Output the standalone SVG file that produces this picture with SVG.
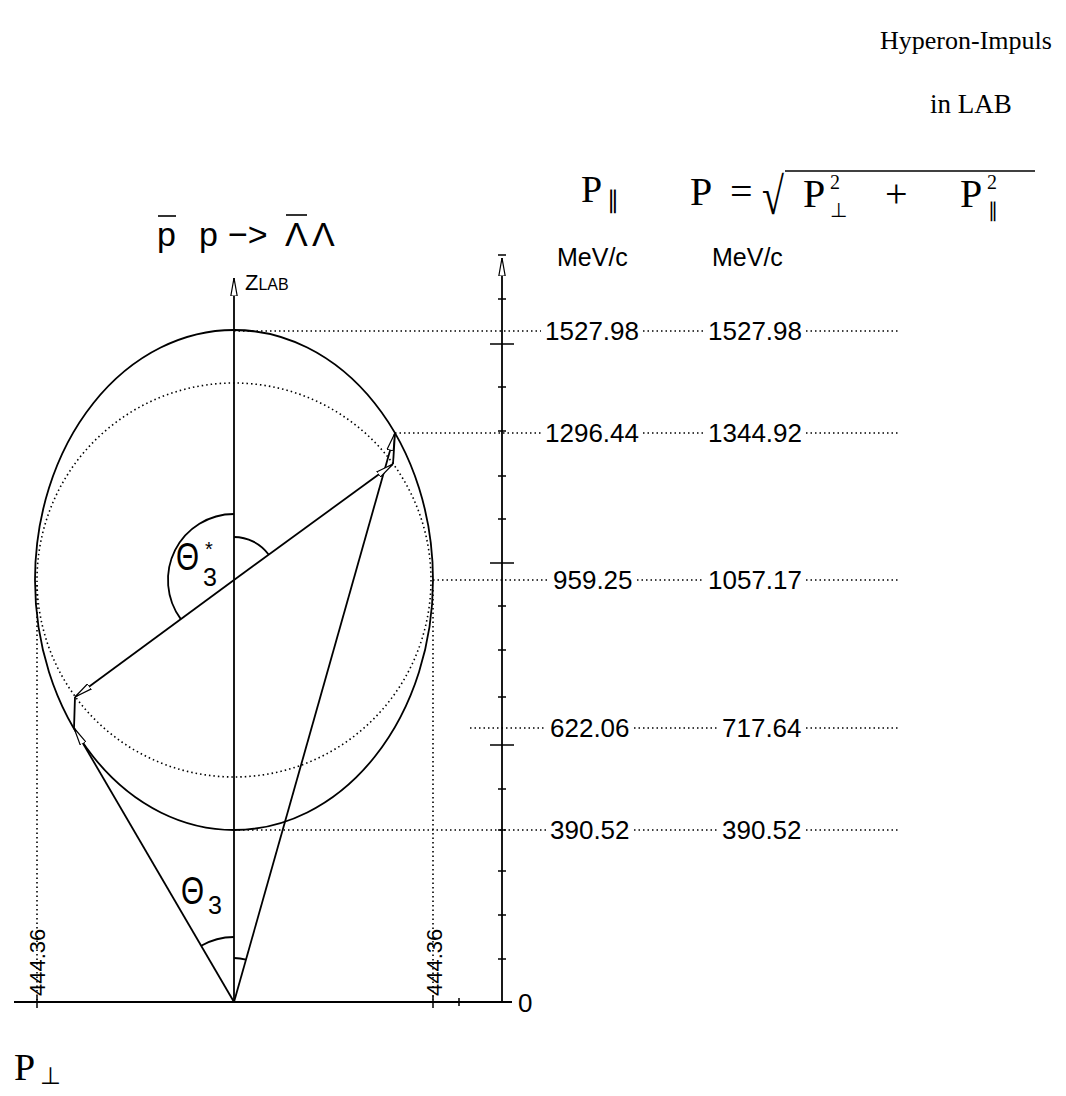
<svg xmlns="http://www.w3.org/2000/svg" width="1066" height="1096" viewBox="0 0 1066 1096">
<style>
.ax{stroke:#000;stroke-width:1.8;fill:none}
.thin{stroke:#000;stroke-width:1.5;fill:none}
.dot{stroke:#000;stroke-width:1.6;stroke-dasharray:1.5 3;fill:none}
.sans{font-family:"Liberation Sans",Arial,sans-serif;fill:#000}
.num{font-family:"Liberation Sans",Arial,sans-serif;font-size:26px;fill:#000}
.serif{font-family:"Liberation Serif","Times New Roman",serif;fill:#000}
</style>
<defs>
<marker id="arr" viewBox="0 0 18 8" refX="18" refY="4" markerWidth="18" markerHeight="8" markerUnits="userSpaceOnUse" orient="auto">
<path d="M0,0.8 L18,4 L0,7.2 Z" fill="#fff" stroke="#000" stroke-width="1.2"/>
</marker>
</defs>
<rect width="1066" height="1096" fill="#fff"/>

<g id="axes">
<line class="ax" x1="14" y1="1002" x2="512" y2="1002"/>
<line class="ax" x1="234" y1="1002" x2="234" y2="278" marker-end="url(#arr)"/>
<line class="ax" x1="502" y1="1002" x2="502" y2="258" marker-end="url(#arr)"/>
<path class="thin" d="M37,996 V1008 M433,996 V1008 M459,998 V1006"/>
<path class="thin" d="M498,255H506M498,299H506M490,344H514M498,387H506M498,431H506M498,476H506M498,519H506M490,563H514M498,606H506M498,650H506M498,697H506M490,745H514M498,789H506M498,830H506M498,871H506M498,915H506M498,959H506"/>
</g>

<g id="ellipse">
<ellipse class="ax" cx="234" cy="580" rx="199" ry="250"/>
</g>
<g id="cm-circle">
<circle class="dot" cx="234" cy="580" r="197"/>
</g>

<g id="connectors">
<line class="ax" x1="234" y1="1002" x2="395" y2="433" marker-end="url(#arr)"/>
<line class="ax" x1="234" y1="1002" x2="74" y2="728" marker-end="url(#arr)"/>
<line class="ax" x1="234" y1="580" x2="393" y2="464" marker-end="url(#arr)"/>
<line class="ax" x1="234" y1="580" x2="75" y2="697" marker-end="url(#arr)"/>
<line class="ax" x1="393" y1="464" x2="395" y2="433"/>
<line class="ax" x1="75" y1="697" x2="74" y2="728"/>
<path class="ax" d="M234,937 A65,65 0 0 0 201.2,945.8"/>
<path class="ax" d="M234,958 A44,44 0 0 1 246,959.7"/>
<path class="ax" d="M234,514 A66,66 0 0 0 180.8,619.1"/>
<path class="ax" d="M234,537 A43,43 0 0 1 268.6,554.5"/>
</g>

<g id="guides">
<line class="dot" x1="37" y1="585" x2="37" y2="1000"/>
<line class="dot" x1="433" y1="590" x2="433" y2="1000"/>
<path class="dot" d="M234,331H541M643,331H704M806,331H900"/>
<path class="dot" d="M395,433H541M643,433H704M806,433H900"/>
<path class="dot" d="M433,580H549M637,580H704M806,580H900"/>
<path class="dot" d="M470,728H546M634,728H718M806,728H900"/>
<path class="dot" d="M234,830H546M634,830H718M806,830H900"/>
</g>

<g id="labels">
<text class="serif" x="880" y="49" font-size="26">Hyperon-Impuls</text>
<text class="serif" x="930" y="113" font-size="27">in LAB</text>
<text class="serif" x="581" y="202" font-size="38">P<tspan x="607" y="208" font-size="24">∥</tspan></text>
<g id="formula">
<text class="serif" x="690" y="205" font-size="40">P<tspan x="730">=</tspan></text>
<text class="serif" font-size="40" transform="translate(762,214) scale(1,1.3)">√</text>
<line x1="785" y1="171" x2="1035" y2="171" stroke="#000" stroke-width="1.6"/>
<text class="serif" x="803" y="207" font-size="40">P</text>
<text class="serif" x="830" y="189" font-size="20">2</text>
<text class="serif" x="830" y="217" font-size="20">⊥</text>
<text class="serif" x="885" y="207" font-size="40">+</text>
<text class="serif" x="960" y="207" font-size="40">P</text>
<text class="serif" x="987" y="189" font-size="20">2</text>
<text class="serif" x="988" y="217" font-size="20">∥</text>
</g>
<text class="sans" x="157" y="246" font-size="34">p<tspan x="199">p</tspan><tspan x="228">−&gt;</tspan><tspan x="285">Λ</tspan><tspan x="312">Λ</tspan></text>
<line x1="158" y1="216" x2="176" y2="216" stroke="#000" stroke-width="1.6"/>
<line x1="286" y1="215" x2="307" y2="215" stroke="#000" stroke-width="1.6"/>
<text class="sans" x="557" y="266" font-size="25">MeV/c</text>
<text class="sans" x="712" y="266" font-size="25">MeV/c</text>
<text class="sans" x="245" y="290" font-size="22">Z<tspan font-size="16">LAB</tspan></text>

<text class="num" x="545" y="340">1527.98</text>
<text class="num" x="708" y="340">1527.98</text>
<text class="num" x="545" y="442">1296.44</text>
<text class="num" x="708" y="442">1344.92</text>
<text class="num" x="553" y="589">959.25</text>
<text class="num" x="708" y="589">1057.17</text>
<text class="num" x="550" y="737">622.06</text>
<text class="num" x="722" y="737">717.64</text>
<text class="num" x="550" y="839">390.52</text>
<text class="num" x="722" y="839">390.52</text>
<text class="num" x="518" y="1012">0</text>
<text class="sans" font-size="22" transform="translate(45,996) rotate(-90)">444.36</text>
<text class="sans" font-size="22" transform="translate(442,996) rotate(-90)">444.36</text>

<text class="sans" font-size="38" transform="translate(176,570) scale(0.78,1)">Θ</text>
<text class="sans" x="203" y="586" font-size="25">3</text>
<text class="sans" x="205" y="556" font-size="20">*</text>
<text class="sans" font-size="38" transform="translate(181,904) scale(0.78,1)">Θ</text>
<text class="sans" x="208" y="914" font-size="25">3</text>

<text class="serif" x="14" y="1080" font-size="38">P<tspan x="40" y="1084" font-size="24">⊥</tspan></text>
</g>
</svg>
